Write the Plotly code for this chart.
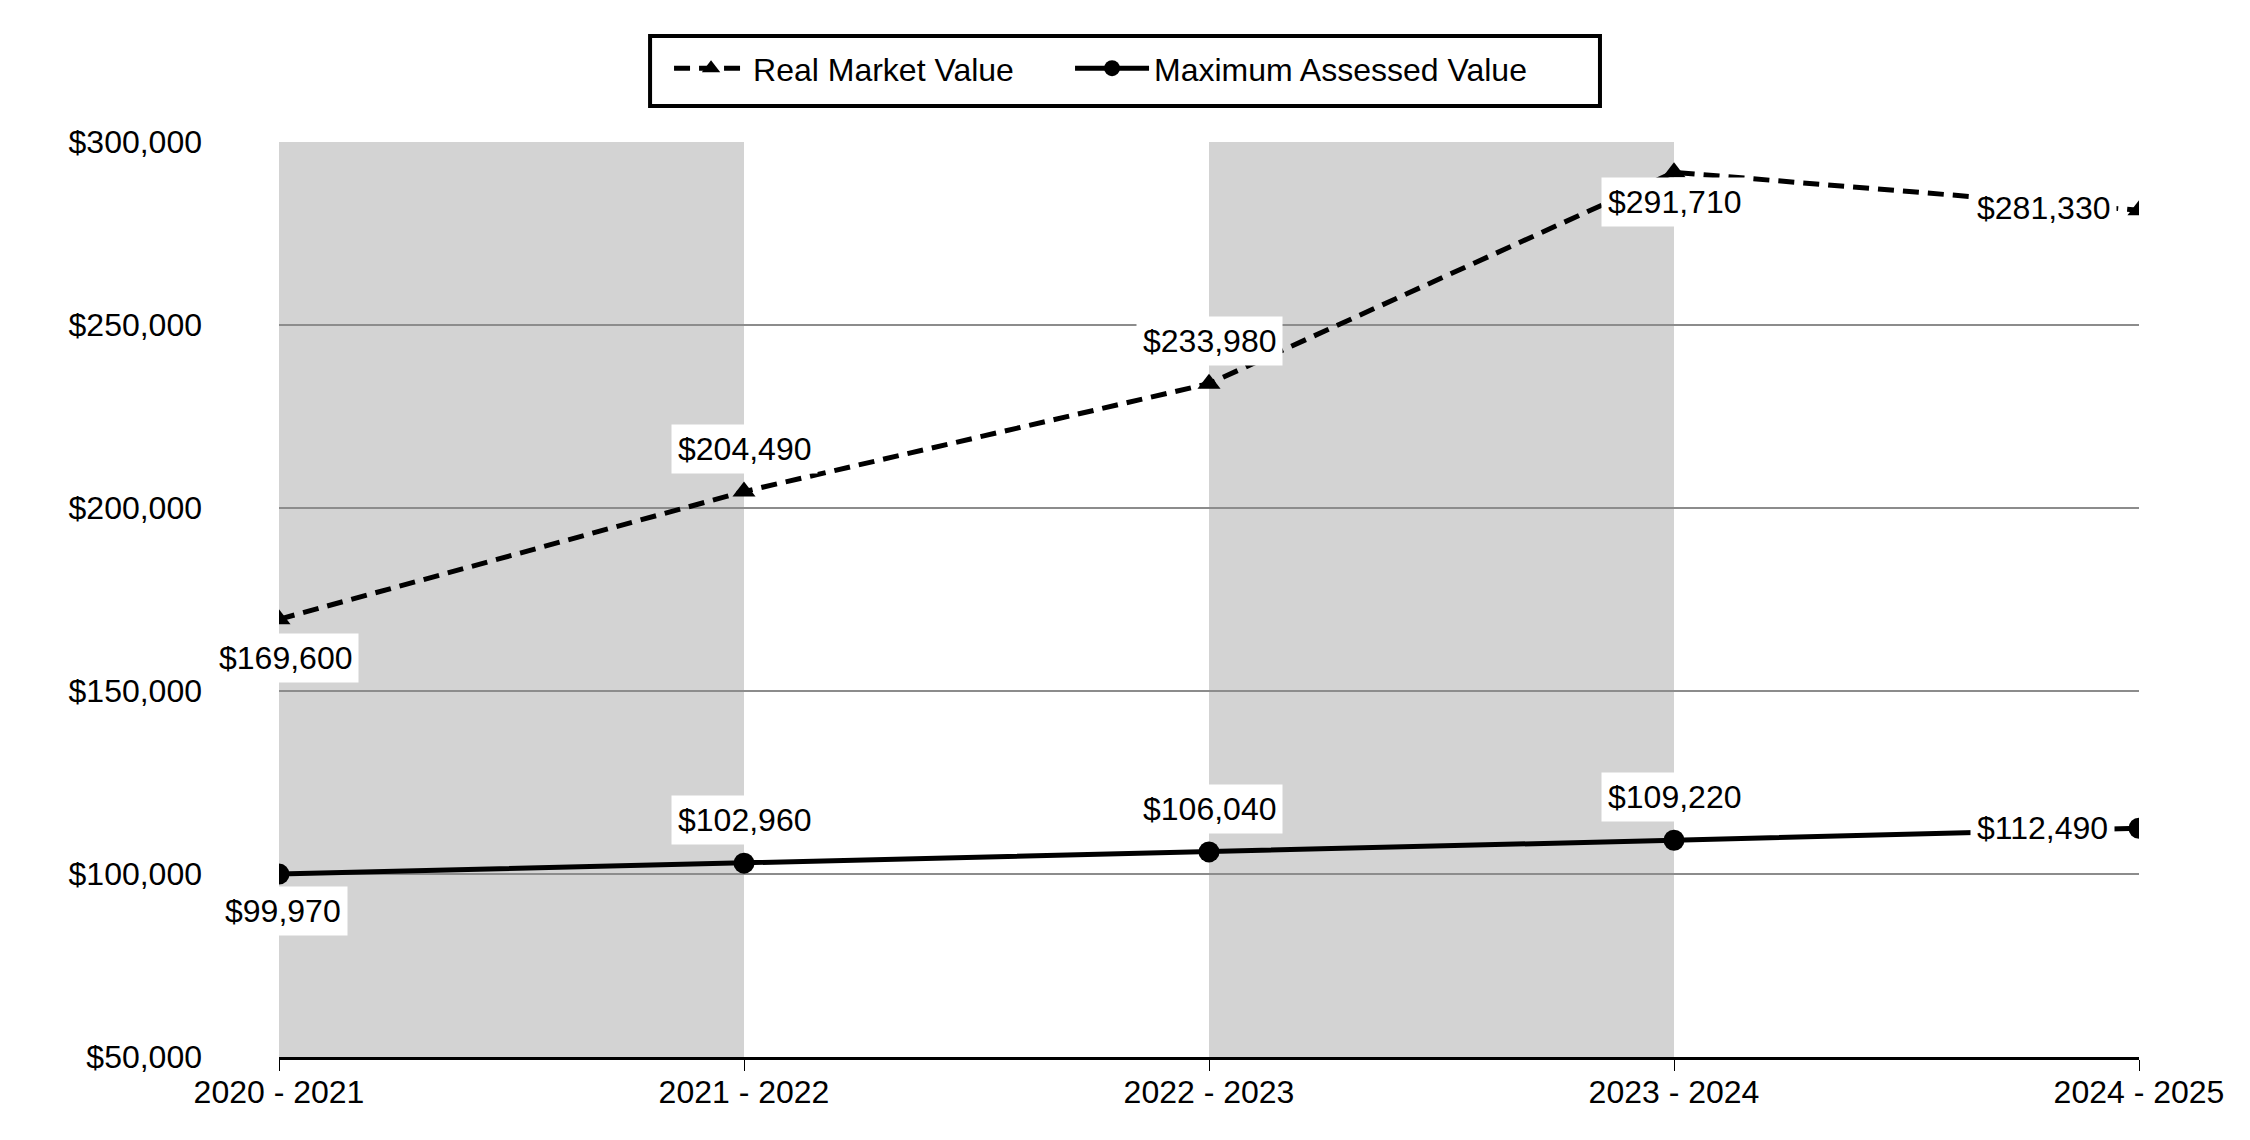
import plotly.graph_objects as go

categories = ["2020 - 2021", "2021 - 2022", "2022 - 2023", "2023 - 2024", "2024 - 2025"]
real_market = [169600, 204490, 233980, 291710, 281330]
max_assessed = [99970, 102960, 106040, 109220, 112490]
y_ticks = [50000, 100000, 150000, 200000, 250000, 300000]

FONT = "Arial, Liberation Sans, sans-serif"
fig = go.Figure()

# shaded alternating bands
for i in range(0, len(categories) - 1, 2):
    fig.add_shape(type="rect", xref="x", yref="paper", x0=i, x1=i + 1, y0=0, y1=1,
                  fillcolor="#d3d3d3", line_width=0, layer="below")

# legend frame
fig.add_shape(type="rect", xref="paper", yref="paper", x0=0.1995, x1=0.7102,
              y0=1.0393, y1=1.1158, line=dict(color="black", width=4),
              fillcolor="rgba(0,0,0,0)")

fig.add_trace(go.Scatter(x=categories, y=real_market, name="Real Market Value",
                         mode="lines+markers", legendwidth=312,
                         line=dict(color="black", width=5, dash="16px,9px"),
                         marker=dict(symbol="triangle-up", size=20, color="black")))
fig.add_trace(go.Scatter(x=categories, y=max_assessed, name="Maximum Assessed Value",
                         mode="lines+markers", legendwidth=420,
                         line=dict(color="black", width=5),
                         marker=dict(symbol="circle", size=21, color="black")))

rmv_shift = [(6, -39), (0, 43), (0, 43), (0, -30), (-96, 2)]
mav_shift = [(4, -37), (0, 43), (0, 43), (0, 43), (-97, 0)]
for series, shifts in ((real_market, rmv_shift), (max_assessed, mav_shift)):
    for c, v, (dx, dy) in zip(categories, series, shifts):
        fig.add_annotation(x=c, y=v, text=f"${v:,}", showarrow=False,
                           xshift=dx, yshift=dy, bgcolor="white", borderpad=6,
                           font=dict(family=FONT, size=32, color="black"))

fig.update_layout(
    width=2242, height=1132,
    margin=dict(l=271, r=111, t=134, b=83),
    paper_bgcolor="white", plot_bgcolor="white",
    font=dict(family=FONT, size=32, color="black"),
    showlegend=True,
    legend=dict(orientation="h", x=0.2097, xanchor="left", y=1.0805, yanchor="middle",
                borderwidth=0, bgcolor="rgba(0,0,0,0)",
                font=dict(family=FONT, size=32, color="black"),
                itemwidth=74, entrywidthmode="pixels"),
    xaxis=dict(type="category", range=[0, len(categories) - 1], showgrid=False,
               showline=True, linecolor="black", linewidth=3,
               ticks="outside", ticklen=11, tickcolor="black", tickwidth=1,
               ticklabelstandoff=-6,
               tickfont=dict(family=FONT, size=32, color="black"), zeroline=False),
    yaxis=dict(range=[y_ticks[0], y_ticks[-1]], tickvals=y_ticks, tickformat="$,.0f",
               showgrid=True, gridcolor="#8c8c8c", gridwidth=2, showline=False,
               zeroline=False, ticks="", ticklabelstandoff=76,
               tickfont=dict(family=FONT, size=32, color="black")),
)

fig.write_html("out.html")
